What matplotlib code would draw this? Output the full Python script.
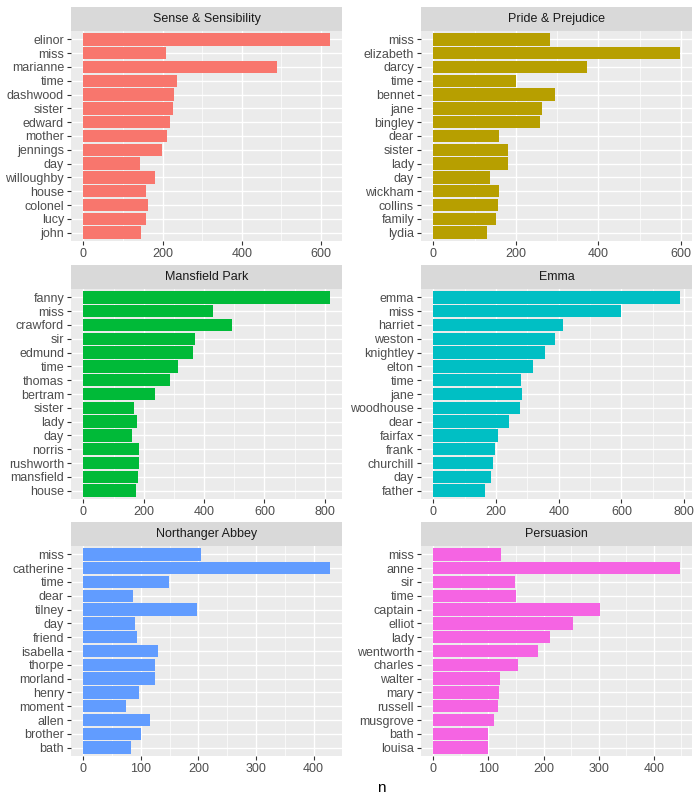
import matplotlib
matplotlib.use("Agg")
import matplotlib.pyplot as plt
from matplotlib.ticker import MultipleLocator

plt.rcParams['font.family'] = ['Liberation Sans', 'DejaVu Sans']

# top words per book (as shown, top to bottom)
ss_words = ["elinor", "miss", "marianne", "time", "dashwood", "sister", "edward",
            "mother", "jennings", "day", "willoughby", "house", "colonel", "lucy", "john"]
ss_n = [622, 208, 490, 237, 230, 227, 220, 212, 198, 144, 180, 159, 164, 159, 146]

pp_words = ["miss", "elizabeth", "darcy", "time", "bennet", "jane", "bingley",
            "dear", "sister", "lady", "day", "wickham", "collins", "family", "lydia"]
pp_n = [283, 597, 373, 201, 294, 263, 258, 158, 180, 182, 138, 160, 156, 151, 131]

mp_words = ["fanny", "miss", "crawford", "sir", "edmund", "time", "thomas",
            "bertram", "sister", "lady", "day", "norris", "rushworth", "mansfield", "house"]
mp_n = [816, 429, 493, 371, 364, 314, 288, 237, 168, 178, 162, 185, 185, 181, 175]

em_words = ["emma", "miss", "harriet", "weston", "knightley", "elton", "time",
            "jane", "woodhouse", "dear", "fairfax", "frank", "churchill", "day", "father"]
em_n = [786, 599, 415, 389, 356, 319, 279, 282, 275, 241, 207, 198, 191, 185, 166]

na_words = ["miss", "catherine", "time", "dear", "tilney", "day", "friend",
            "isabella", "thorpe", "morland", "henry", "moment", "allen", "brother", "bath"]
na_n = [205, 428, 148, 87, 197, 90, 94, 130, 125, 125, 97, 75, 115, 101, 82]

pe_words = ["miss", "anne", "sir", "time", "captain", "elliot", "lady",
            "wentworth", "charles", "walter", "mary", "russell", "musgrove", "bath", "louisa"]
pe_n = [123, 447, 148, 150, 303, 254, 212, 190, 154, 121, 119, 118, 110, 99, 99]

books = ["Sense & Sensibility", "Pride & Prejudice", "Mansfield Park",
         "Emma", "Northanger Abbey", "Persuasion"]
colors = ["#F8766D", "#B79F00", "#00BA38", "#00BFC4", "#619CFF", "#F564E3"]
panels = [(ss_words, ss_n, 200), (pp_words, pp_n, 200), (mp_words, mp_n, 200),
          (em_words, em_n, 200), (na_words, na_n, 100), (pe_words, pe_n, 100)]

W, H = 700, 800
fig = plt.figure(figsize=(7, 8), dpi=100)

col_x = [71, 421]
panel_w = 271
row_top = [7, 265, 522]
strip_h = 24
panel_h = 210

for i, (title, color, (words, counts, step)) in enumerate(zip(books, colors, panels)):
    r, c = divmod(i, 2)
    x0 = col_x[c]
    top = row_top[r]
    ax = fig.add_axes([x0 / W, 1 - (top + strip_h + panel_h) / H, panel_w / W, panel_h / H])
    strip = fig.add_axes([x0 / W, 1 - (top + strip_h) / H, panel_w / W, strip_h / H])

    y = list(range(len(words)))
    ax.barh(y, counts, height=0.9, color=color, zorder=2)
    ax.set_ylim(len(words) - 0.4, -0.6)
    m = max(counts)
    ax.set_xlim(-0.05 * m, 1.05 * m)
    ax.xaxis.set_major_locator(MultipleLocator(step))
    ax.xaxis.set_minor_locator(MultipleLocator(step / 2))
    ax.set_yticks(y)
    ax.set_yticklabels(words)
    ax.set_facecolor('#EBEBEB')
    ax.grid(which='major', color='white', lw=1.0, zorder=0)
    ax.grid(which='minor', axis='x', color='white', lw=0.5, zorder=0)
    ax.set_axisbelow(True)
    for s in ax.spines.values():
        s.set_visible(False)
    ax.tick_params(which='major', length=3, width=0.8, color='#333333',
                   labelcolor='#4D4D4D', labelsize=9, pad=2)
    ax.tick_params(which='minor', length=0)

    strip.set_facecolor('#D9D9D9')
    strip.set_xticks([])
    strip.set_yticks([])
    for s in strip.spines.values():
        s.set_visible(False)
    strip.text(0.5, 0.5, title, ha='center', va='center', fontsize=9,
               color='#1A1A1A', transform=strip.transAxes)

fig.text(381 / W, 1 - 788 / H, 'n', ha='center', va='center', fontsize=11)

fig.savefig('out.png', dpi=100)
